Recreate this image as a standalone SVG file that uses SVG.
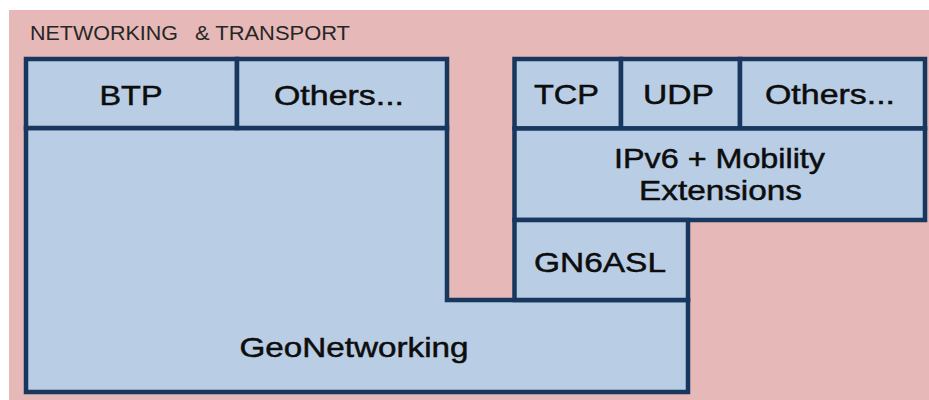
<svg xmlns="http://www.w3.org/2000/svg" width="929" height="400" viewBox="0 0 929 400">
  <style>
    .cell { fill: #B9CDE5; stroke: #17375E; stroke-width: 4.5; stroke-linejoin: miter; }
    .lbl { font-family: "Liberation Sans", Arial, sans-serif; font-size: 28px; fill: #0D0D0D; stroke: #0D0D0D; stroke-width: 0.5; text-anchor: middle; }
    .title { font-family: "Liberation Sans", Arial, sans-serif; font-size: 20px; fill: #262626; }
  </style>

  <!-- page background -->
  <rect x="0" y="0" width="929" height="400" fill="#FFFFFF"/>
  <!-- layer frame -->
  <rect id="frame" x="9" y="10" width="920" height="390" fill="#E6B8B7"/>
  <text id="frame-title" class="title" y="40"><tspan x="30" textLength="148" lengthAdjust="spacingAndGlyphs">NETWORKING</tspan><tspan x="195" textLength="155" lengthAdjust="spacingAndGlyphs">&amp; TRANSPORT</tspan></text>

  <!-- no connectors in this stack diagram -->
  <g id="connectors"/>

  <!-- GeoNetworking stack (left) -->
  <g id="geonetworking">
    <path class="cell" d="M26,128 H447 V300 H688 V392 H26 Z"/>
    <text class="lbl" x="354" y="357" textLength="229" lengthAdjust="spacingAndGlyphs">GeoNetworking</text>
  </g>
  <g id="btp">
    <rect class="cell" x="26" y="59" width="211" height="69"/>
    <text class="lbl" x="131" y="105" textLength="63" lengthAdjust="spacingAndGlyphs">BTP</text>
  </g>
  <g id="others-left">
    <rect class="cell" x="237" y="59" width="210" height="69"/>
    <text class="lbl" x="339" y="105" textLength="130" lengthAdjust="spacingAndGlyphs">Others...</text>
  </g>

  <!-- IPv6 stack (right) -->
  <g id="tcp">
    <rect class="cell" x="514.5" y="59" width="106.5" height="69.5"/>
    <text class="lbl" x="566.5" y="104" textLength="65" lengthAdjust="spacingAndGlyphs">TCP</text>
  </g>
  <g id="udp">
    <rect class="cell" x="621" y="59" width="119" height="69.5"/>
    <text class="lbl" x="678.5" y="104" textLength="71" lengthAdjust="spacingAndGlyphs">UDP</text>
  </g>
  <g id="others-right">
    <rect class="cell" x="740" y="59" width="185" height="69.5"/>
    <text class="lbl" x="830" y="104" textLength="130" lengthAdjust="spacingAndGlyphs">Others...</text>
  </g>
  <g id="ipv6">
    <rect class="cell" x="514.5" y="128.5" width="410.5" height="91.5"/>
    <text class="lbl" x="719.5" y="168" textLength="211" lengthAdjust="spacingAndGlyphs">IPv6 + Mobility</text>
    <text class="lbl" x="720.5" y="200" textLength="163" lengthAdjust="spacingAndGlyphs">Extensions</text>
  </g>
  <g id="gn6asl">
    <rect class="cell" x="514.5" y="220" width="173.5" height="80"/>
    <text class="lbl" x="600" y="272" textLength="132" lengthAdjust="spacingAndGlyphs">GN6ASL</text>
  </g>
</svg>
